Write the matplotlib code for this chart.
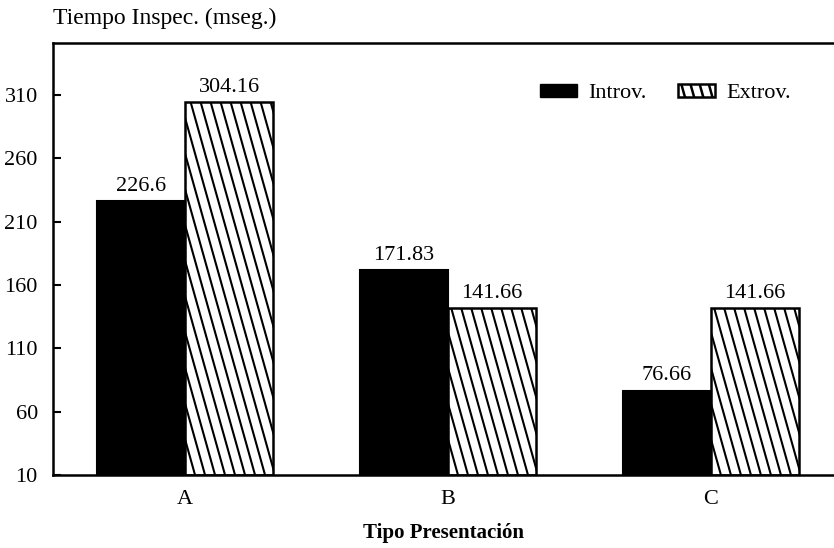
import numpy as np
import matplotlib.pyplot as plt
from matplotlib.patches import Patch
from matplotlib.legend_handler import HandlerPatch

# ==========================
# Data
# ==========================
categories = ["A", "B", "C"]
introv = [226.6, 171.83, 76.66]
extrov = [304.16, 141.66, 141.66]
introv_labels = ["226.6", "171.83", "76.66"]
extrov_labels = ["304.16", "141.66", "141.66"]
yticks = [10, 60, 110, 160, 210, 260, 310]

# ==========================
# Style
# ==========================
plt.rcParams["font.family"] = ["Liberation Serif", "DejaVu Serif"]

base = 10
x = np.arange(len(categories))
w = 0.335

fig = plt.figure(figsize=(8.34, 5.48), dpi=100)
ax = fig.add_axes([0.0636, 0.1332, 0.9364, 0.7883])
ax.set_xlim(-0.502, 2.468)
ax.set_ylim(10, 351)


# steep "\" hatch drawn by hand (matplotlib hatches are only 45 deg)
def steep_hatch(axis, patch, spacing=10.0, slope=0.28, lw=1.5):
    tr = axis.transData
    (x0, y0), (x1, y1) = tr.transform([[patch.get_x(), patch.get_y()],
                                       [patch.get_x() + patch.get_width(),
                                        patch.get_y() + patch.get_height()]])
    h = y1 - y0
    starts = np.arange(x0 - slope * h - spacing, x1 + spacing, spacing)
    inv = tr.inverted()
    for s in starts:
        pts = inv.transform([[s, y1], [s + slope * h, y0]])
        ln, = axis.plot(pts[:, 0], pts[:, 1], color="black", lw=lw,
                        solid_capstyle="butt", zorder=2.5)
        ln.set_clip_path(patch)


b1 = ax.bar(x - w / 2, np.array(introv) - base, w, bottom=base,
            color="black", edgecolor="black", lw=1.5)
b2 = ax.bar(x + w / 2, np.array(extrov) - base, w, bottom=base,
            color="white", edgecolor="black", lw=1.8, zorder=3)
for p in b2.patches:
    p.set_facecolor("none")
    steep_hatch(ax, p)

for xi, v, s in zip(x - w / 2, introv, introv_labels):
    ax.text(xi, v + 4, s, ha="center", va="bottom", fontsize=16)
for xi, v, s in zip(x + w / 2, extrov, extrov_labels):
    ax.text(xi, v + 4, s, ha="center", va="bottom", fontsize=16)

ax.set_yticks(yticks)
ax.set_xticks(x)
ax.set_xticklabels(categories)
ax.tick_params(axis="y", direction="in", length=6, width=1.5, labelsize=16, pad=11)
ax.tick_params(axis="x", length=0, labelsize=16, pad=11)

ax.spines["right"].set_visible(False)
for s in ["left", "top", "bottom"]:
    ax.spines[s].set_linewidth(1.8)

ax.set_xlabel("Tipo Presentación", fontsize=15, fontweight="bold", labelpad=10)
fig.text(0.0636, 0.967, "Tiempo Inspec. (mseg.)", fontsize=17, va="center")


# legend handles
class HatchHandler(HandlerPatch):
    def create_artists(self, legend, orig_handle, xdescent, ydescent,
                       width, height, fontsize, trans):
        arts = []
        rect = plt.Rectangle((-xdescent, -ydescent), width, height,
                             facecolor="white", edgecolor="black", lw=1.8,
                             transform=trans)
        arts.append(rect)
        n = 4
        for i in range(n):
            sx = -xdescent + (i + 0.3) * width / n
            ln = plt.Line2D([sx, sx + 0.28 * height], [-ydescent + height, -ydescent],
                            color="black", lw=1.8, transform=trans)
            ln.set_clip_path(rect)
            arts.append(ln)
        return arts


h1 = Patch(facecolor="black", edgecolor="black")
h2 = Patch(facecolor="white", edgecolor="black")
ax.legend([h1, h2], ["Introv.", "Extrov."], loc="upper left",
          bbox_to_anchor=(0.6236, 0.906), ncol=2, frameon=False,
          fontsize=16, handlelength=1.65, handleheight=0.55, columnspacing=1.45,
          handletextpad=0.5, borderpad=0, borderaxespad=0,
          handler_map={h2: HatchHandler()})

plt.savefig("out.png", dpi=100)
